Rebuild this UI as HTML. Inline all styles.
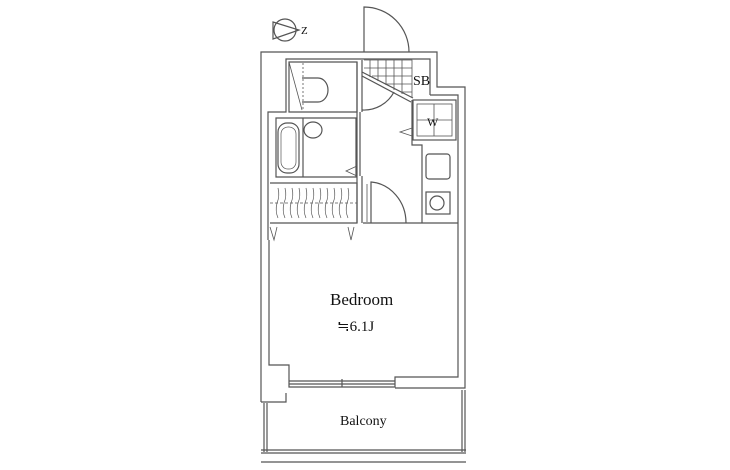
<!DOCTYPE html>
<html><head><meta charset="utf-8"><style>
html,body{margin:0;padding:0;background:#fff;width:730px;height:470px;overflow:hidden}
svg{display:block}
text{font-family:"Liberation Serif","Noto Serif CJK SC",serif;fill:#111}
</style></head><body>
<svg width="730" height="470" viewBox="0 0 730 470" xmlns="http://www.w3.org/2000/svg">
<g fill="none" stroke="#555" stroke-width="1.2">
<circle cx="285" cy="30" r="11"/>
<path d="M273 22 L299 30 L273 39 Z"/>
<path d="M261 402 L261 52 L437 52 L437 87 L465 87 L465 388 L395 388"/>
<path d="M261 402 L286 402 L286 393"/>
<path d="M268 240 L268 112 L286 112 L286 59 L430 59 L430 95"/>
<path d="M269 240 L269 365 L289 365 L289 387 L395 387 L395 377 L458 377 L458 95 L430 95"/>
<path d="M289 381 L395 381 M289 384 L395 384 M342 379 L342 387"/>
<path d="M289 112 L289 62 L357 62 L357 112 Z"/>
<path d="M289 62 L302 110" stroke-width="0.8"/>
<path d="M303 63 L303 110" stroke-dasharray="2 2" stroke-width="0.8"/>
<path d="M302 78 L318 78 A10 12 0 0 1 318 102 L302 102"/>
<path d="M357 62 L357 223 M362 60 L362 112 M360 112 L360 176 M362 176 L362 223"/>
<path d="M362 110 A34 34 0 0 0 394 92"/>
<path d="M276 118 L356 118 L356 177 L276 177 Z"/>
<rect x="278" y="123" width="21" height="50" rx="9"/>
<rect x="281" y="127" width="15" height="42" rx="7" stroke-width="0.7"/>
<path d="M303 118 L303 177"/>
<ellipse cx="313" cy="130" rx="9" ry="8"/>
<path d="M346 171 L357 166 L357 176 Z" stroke-width="0.8"/>
<path d="M270 183 L357 183 L357 223 L270 223"/>
<path d="M270 203 L357 203" stroke-dasharray="3 2" stroke-width="0.8"/>
<g stroke-width="0.7">
<path d="M278 188 q2 8 -1 15 q-2 8 1 15 M285 188 q2 8 -1 15 q-2 8 1 15 M292 188 q2 8 -1 15 q-2 8 1 15 M299 188 q2 8 -1 15 q-2 8 1 15 M306 188 q2 8 -1 15 q-2 8 1 15 M313 188 q2 8 -1 15 q-2 8 1 15 M320 188 q2 8 -1 15 q-2 8 1 15 M327 188 q2 8 -1 15 q-2 8 1 15 M334 188 q2 8 -1 15 q-2 8 1 15 M341 188 q2 8 -1 15 q-2 8 1 15 M348 188 q2 8 -1 15 q-2 8 1 15"/>
</g>
<path d="M270 227 L274 240 L277 227 M348 227 L351 240 L354 227" stroke-width="0.8"/>
<path d="M364 52 L364 7 A45 45 0 0 1 409 52"/>
<g stroke-width="0.8">
<path d="M364 60 L412 60 L412 97"/>
<path d="M370 60 L370 77 M378 60 L378 81 M386 60 L386 85 M394 60 L394 90 M402 60 L402 94 M364 68 L412 68 M372 76 L412 76 M386 84 L412 84 M402 92 L412 92"/>
</g>
<path d="M362 72 L413 98 M362 76 L411 102"/>
<text x="413" y="85" font-size="14" stroke="none">SB</text>
<rect x="413" y="100" width="43" height="40"/>
<rect x="417" y="104" width="35" height="32" stroke-width="0.8"/>
<path d="M434 104 L434 136 M417 120 L452 120" stroke-width="0.8"/>
<path d="M412 100 L412 145 L422 145 L422 223"/>
<path d="M400 132 L412 128 L412 136 Z" stroke-width="0.8"/>
<rect x="426" y="154" width="24" height="25" rx="3"/>
<rect x="426" y="192" width="24" height="22"/>
<circle cx="437" cy="203" r="7"/>
<path d="M363 223 L458 223"/>
<path d="M371 223 L371 182 A38 41 0 0 1 406 223"/>
<path d="M367 222 L367 184" stroke-width="0.8"/>
<path d="M264 403 L264 452 M267 403 L267 452 M462 390 L462 452 M465 390 L465 452"/>
<path d="M261 450 L466 450 M261 453 L466 453 M261 462 L466 462"/>
</g>
<text x="301" y="34" font-size="11" font-family="Liberation Sans,sans-serif">Z</text>
<text x="427" y="126" font-size="12">W</text>
<text x="330" y="305" font-size="17">Bedroom</text>
<text x="337" y="331" font-size="15">≒6.1J</text>
<text x="340" y="425" font-size="14">Balcony</text>
</svg>
</body></html>
